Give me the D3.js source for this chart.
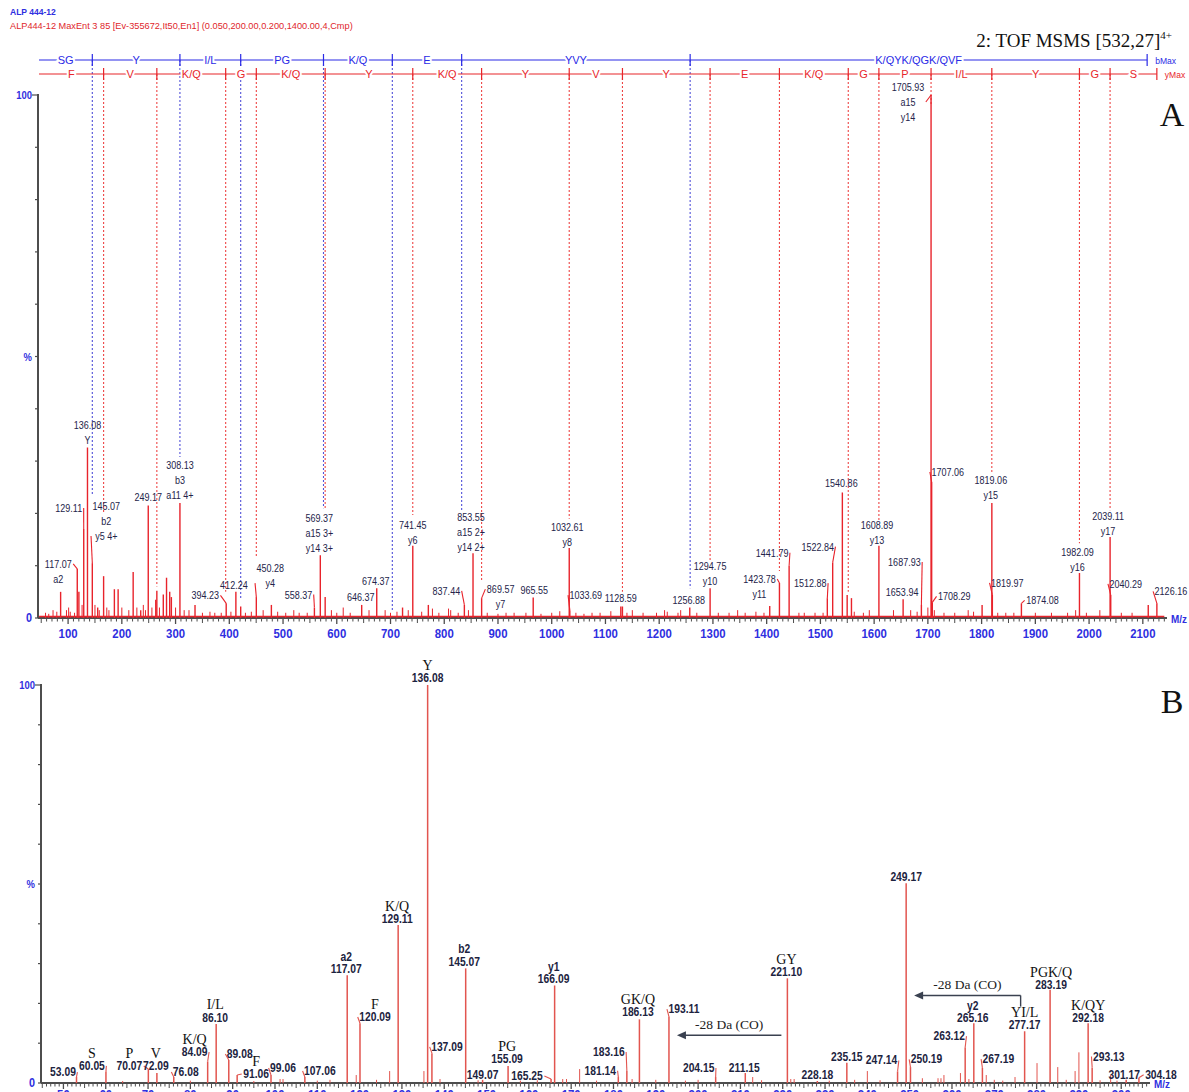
<!DOCTYPE html>
<html>
<head>
<meta charset="utf-8">
<script src="https://cdn.jsdelivr.net/npm/d3@7"></script>
<style>
  html, body { margin: 0; padding: 0; background: #fff; }
  svg { display: block; }
</style>
</head>
<body>
<svg id="chart" width="1189" height="1092"></svg>
<script>
// ---------------- Spectrum A: full MS/MS of [532.27]4+ ----------------
// labelled peaks: [m/z, relative intensity %]
const peaksA = [
  [86.10, 5], [117.07, 9.4], [120.09, 5], [129.11, 17], [136.08, 32.6], [145.07, 10.5],
  [155.09, 2], [166.09, 8], [186.13, 5.5], [193.11, 5.5], [221.10, 8.8], [235.15, 1.5],
  [249.17, 21.5], [263.12, 3.5], [265.16, 5.2], [277.17, 4.5], [283.19, 7.7], [289.1, 5],
  [292.18, 4], [308.13, 22], [336.2, 2.5], [394.23, 2.8], [412.24, 5], [421.2, 2.2],
  [450.28, 4], [478.3, 2.5], [558.37, 2], [569.37, 12], [578.4, 4], [646.37, 2.5],
  [674.37, 5.7], [722.4, 2], [741.45, 13.8], [770.4, 2.5], [837.44, 2.5], [853.55, 12.4],
  [869.57, 3.8], [965.55, 3.9], [1032.61, 13.4], [1033.69, 1.5], [1128.59, 2.2],
  [1131.6, 2.2], [1256.88, 2], [1294.75, 5.7], [1405.7, 2.3], [1423.78, 6.7],
  [1441.79, 10], [1512.88, 3.8], [1522.84, 10.6], [1540.86, 24], [1549.8, 4.4],
  [1557.8, 3.8], [1608.89, 13.8], [1653.94, 3.6], [1687.93, 2.5], [1705.93, 100],
  [1707.06, 26], [1708.29, 3], [1800.9, 2.5], [1819.06, 22], [1819.97, 4.4],
  [1874.08, 2.8], [1982.09, 8.6], [2039.11, 15.5], [2040.29, 4.4], [2110.1, 2.5],
  [2126.16, 2.8]
];
// small background peaks
const minorA = [
  [58, 1], [64, 0.8], [72, 1.5], [79, 1.2], [97, 1.5], [101, 2], [104, 1.2], [112, 1],
  [126, 2.5], [150, 2.5], [158, 1.5], [172, 2], [176, 1.5], [200, 2], [213, 1.5], [228, 2],
  [240, 2.5], [244, 1.5], [256, 2], [270, 2], [300, 2], [316, 1.5], [325, 1.5], [350, 1],
  [364, 1.2], [373, 1], [385, 1], [403, 1.2], [430, 1], [441, 1.2], [463, 1.5], [490, 1.2],
  [505, 1], [520, 1.5], [530, 1], [545, 1], [590, 1.5], [600, 1], [612, 2], [625, 1],
  [660, 1.5], [690, 1.5], [700, 1], [712, 1.2], [733, 1.5], [758, 1.2], [778, 1.8],
  [790, 1], [808, 1.8], [812, 1.5], [826, 1], [845, 1.5], [880, 1], [900, 0.8], [915, 1],
  [930, 1], [952, 1], [980, 0.8], [1000, 1], [1015, 1.3], [1045, 1], [1060, 0.8],
  [1075, 1], [1090, 1], [1110, 1.3], [1140, 1], [1150, 1.5], [1170, 1], [1195, 1],
  [1210, 1.5], [1215, 1.2], [1235, 1], [1240, 1.5], [1270, 1], [1310, 1], [1330, 1],
  [1346, 1.5], [1360, 1], [1380, 1.2], [1395, 1], [1460, 1], [1470, 1], [1490, 1],
  [1505, 1], [1563, 1.2], [1580, 1], [1591, 1.5], [1636, 1.5], [1668, 1.5], [1680, 1.2],
  [1700, 2], [1712, 1.5], [1730, 1], [1750, 1], [1775, 1.5], [1785, 1.2], [1830, 1],
  [1845, 1], [1860, 1], [1900, 1], [1930, 1], [1960, 1], [1975, 1.5], [1995, 1],
  [2020, 1.5], [2060, 1], [2080, 1]
];
// peak annotations
const labelsA = [
  [117.07, ["117.07", "a2"]], [129.11, ["129.11"]], [136.08, ["136.08", "Y"]],
  [145.07, ["145.07", "b2", "y5 4+"]], [249.17, ["249.17"]],
  [308.13, ["308.13", "b3", "a11 4+"]], [394.23, ["394.23"]], [412.24, ["412.24"]],
  [450.28, ["450.28", "y4"]], [558.37, ["558.37"]], [569.37, ["569.37", "a15 3+", "y14 3+"]],
  [646.37, ["646.37"]], [674.37, ["674.37"]], [741.45, ["741.45", "y6"]],
  [837.44, ["837.44"]], [853.55, ["853.55", "a15 2+", "y14 2+"]], [869.57, ["869.57", "y7"]],
  [965.55, ["965.55"]], [1032.61, ["1032.61", "y8"]], [1033.69, ["1033.69"]],
  [1128.59, ["1128.59"]], [1256.88, ["1256.88"]], [1294.75, ["1294.75", "y10"]],
  [1423.78, ["1423.78", "y11"]], [1441.79, ["1441.79"]], [1512.88, ["1512.88"]],
  [1522.84, ["1522.84"]], [1540.86, ["1540.86"]], [1608.89, ["1608.89", "y13"]],
  [1653.94, ["1653.94"]], [1687.93, ["1687.93"]], [1705.93, ["1705.93", "a15", "y14"]],
  [1707.06, ["1707.06"]], [1708.29, ["1708.29"]], [1819.06, ["1819.06", "y15"]],
  [1819.97, ["1819.97"]], [1874.08, ["1874.08"]], [1982.09, ["1982.09", "y16"]],
  [2039.11, ["2039.11", "y17"]], [2040.29, ["2040.29"]], [2126.16, ["2126.16"]]
];
// b-ion and y-ion ladders (boundary m/z, residue ending at that boundary)
const bLadderMz = [145.07, 308.13, 421.21, 575.28, 703.37, 832.41, 1257.60, 2108.05];
const bResidues = ["SG", "Y", "I/L", "PG", "K/Q", "E", "YVY", "K/QYK/QGK/QVF"];
const bDropTo = [23.5, 30.8, 3.5, 21, 1.5, 20.6, 5.7];
const yLadderMz = [166.09, 265.16, 393.25, 450.27, 578.36, 741.42, 869.51, 1032.57, 1131.64,
  1294.71, 1423.75, 1551.84, 1608.86, 1705.91, 1818.99, 1982.06, 2039.08, 2126.11];
const yResidues = ["F", "V", "K/Q", "G", "K/Q", "Y", "K/Q", "Y", "V", "Y", "E", "K/Q", "G",
  "P", "I/L", "Y", "G", "S"];
const yDropTo = [20, 6, 5, 11.5, 21, 19.7, 7, 19, 5, 11, 9, 5, 18.7, 98, 27.7, 14.3, 20.6];
const tickLabelsA = [100, 200, 300, 400, 500, 600, 700, 800, 900, 1000, 1100, 1200, 1300,
  1400, 1500, 1600, 1700, 1800, 1900, 2000, 2100];

// ---------------- Spectrum B: low-mass region 44-307 ----------------
const peaksB = [
  [53.09, 1.5], [60.05, 2.8], [70.07, 3.5], [72.09, 2.5], [76.08, 1.5], [84.09, 5.4],
  [86.10, 14.8], [89.08, 5.8], [91.06, 2], [99.06, 2], [107.06, 1.5], [117.07, 27.1],
  [120.09, 15], [129.11, 39.7], [136.08, 100], [137.09, 7.5], [145.07, 28.8], [149.07, 0.8],
  [155.09, 4.3], [165.25, 1], [166.09, 24.5], [181.14, 1.5], [183.16, 3], [186.13, 16],
  [193.11, 16.7], [204.15, 1.5], [211.15, 2.5], [221.10, 26.3], [228.18, 0.5],
  [235.15, 5.1], [247.14, 2.9], [249.17, 50.2], [250.19, 4], [263.12, 9], [265.16, 15],
  [267.19, 3.8], [277.17, 13], [283.19, 23.4], [292.18, 15], [293.13, 3.8], [301.17, 0.8],
  [304.18, 1.3]
];
const minorB = [
  [64, 0.5], [80, 0.6], [95, 0.5], [101.2, 1], [101.9, 1], [110, 0.6], [113, 0.8],
  [119.2, 2], [124, 0.8], [127.1, 3], [135.2, 3], [139, 1], [148, 0.7], [158, 0.6],
  [162, 0.7], [168, 1], [168.9, 1], [172, 3.5], [176, 0.6], [184.4, 1], [190, 0.8],
  [197, 0.6], [200, 0.8], [212.9, 1.5], [215, 0.7], [221.9, 1], [222.7, 1], [231, 0.6],
  [237, 0.8], [240, 3], [243, 0.7], [253, 1.2], [256.7, 1.2], [257.4, 1.2], [258.1, 2],
  [262, 2.5], [264, 1], [268.1, 2], [270, 0.8], [272, 0.6], [274.9, 1.5], [280.1, 5],
  [285, 4], [287, 0.8], [289.1, 3], [290, 7.7], [295, 0.7], [297.5, 2], [299, 0.6]
];
const labelsB = [
  [53.09, ["53.09"]], [60.05, ["S", "60.05"]], [70.07, ["P", "70.07"]], [72.09, ["V", "72.09"]],
  [76.08, ["76.08"]], [84.09, ["K/Q", "84.09"]], [86.10, ["I/L", "86.10"]], [89.08, ["89.08"]],
  [91.06, ["F", "91.06"]], [99.06, ["99.06"]], [107.06, ["107.06"]], [117.07, ["a2", "117.07"]],
  [120.09, ["F", "120.09"]], [129.11, ["K/Q", "129.11"]], [136.08, ["Y", "136.08"]],
  [137.09, ["137.09"]], [145.07, ["b2", "145.07"]], [149.07, ["149.07"]],
  [155.09, ["PG", "155.09"]], [165.25, ["165.25"]], [166.09, ["y1", "166.09"]],
  [181.14, ["181.14"]], [183.16, ["183.16"]], [186.13, ["GK/Q", "186.13"]],
  [193.11, ["193.11"]], [204.15, ["204.15"]], [211.15, ["211.15"]], [221.10, ["GY", "221.10"]],
  [228.18, ["228.18"]], [235.15, ["235.15"]], [247.14, ["247.14"]], [249.17, ["249.17"]],
  [250.19, ["250.19"]], [263.12, ["263.12"]], [265.16, ["y2", "265.16"]], [267.19, ["267.19"]],
  [277.17, ["YI/L", "277.17"]], [283.19, ["PGK/Q", "283.19"]], [292.18, ["K/QY", "292.18"]],
  [293.13, ["293.13"]], [301.17, ["301.17"]], [304.18, ["304.18"]]
];
// neutral-loss arrows: from m/z, to m/z, text
const lossesB = [[221.10, 193.11, "-28 Da (CO)"], [277.17, 249.17, "-28 Da (CO)"]];
const tickLabelsB = [50, 60, 70, 80, 90, 100, 110, 120, 130, 140, 150, 160, 170, 180, 190,
  200, 210, 220, 230, 240, 250, 260, 270, 280, 290, 300];

// ---------------- layout (pixel offsets of annotations) ----------------
// [dx of label centre, dy of last baseline from peak top, line index the leader starts at (-1 none)]
const placeA = {
  "117.07": [-19, 14, 0], "129.11": [-15, -17, 0], "136.08": [0, -4, -1], "145.07": [14, -23, 2],
  "249.17": [0, -4.6, -1], "308.13": [0, -4, -1], "394.23": [-21, -4, 0], "412.24": [-2, -3, -1],
  "450.28": [14, -10, 1], "558.37": [-16, -9, 0], "569.37": [-1, -3, -1], "646.37": [-1, -4, -1],
  "674.37": [-1, -3, -1], "741.45": [0, -2, -1], "837.44": [-18, -10, 0], "853.55": [-2, -2, -1],
  "869.57": [19, 10, 0], "965.55": [1, -4, -1], "1032.61": [-2, -2, -1], "1033.69": [16, -11, 0],
  "1128.59": [0, -4, -1], "1256.88": [-1, -4, -1], "1294.75": [0, -3, -1], "1423.78": [-20, 15, 0],
  "1441.79": [-17, -9, 0], "1512.88": [-17, -11, 0], "1522.84": [-15, -12, 0], "1540.86": [-1, -5, -1],
  "1608.89": [-2, -2, -1], "1653.94": [-1, -3, -1], "1687.93": [-17, -39, 0], "1705.93": [-23, 26, 1],
  "1707.06": [16, -6, 0], "1708.29": [22, -2, 0], "1819.06": [-1, -4, -1], "1819.97": [15, -8, 0],
  "1874.08": [21, 1, 0], "1982.09": [-2, -2, -1], "2039.11": [-2, -1.5, -1], "2040.29": [15, -7, 0],
  "2126.16": [14, -8, 0]
};
const placeB = {
  "53.09": [-13.5, -1, 0], "60.05": [-14, -2, 1], "70.07": [-19, 1, 1], "72.09": [-1, -3, -1],
  "76.08": [12, -1, 0], "84.09": [-13, -5.5, 1], "86.10": [-1, -2.3, -1], "89.08": [11, -2, 0],
  "91.06": [19, 3, 1], "99.06": [12, -3, 0], "107.06": [15, -2, 0], "117.07": [-1, -2, -1],
  "120.09": [15, -2.3, 1], "129.11": [-1, -1.7, -1], "136.08": [0, -3, -1], "137.09": [15, -2.3, 0],
  "145.07": [-1.5, -2.7, -1], "149.07": [0, -1, -1], "155.09": [-1, -2.7, -1], "165.25": [-24, 1, 0],
  "166.09": [-1, -2.5, -1], "181.14": [-18, -2.3, 0], "183.16": [-18, -15, 0], "186.13": [-1.5, -3, -1],
  "193.11": [15, -3.5, 0], "204.15": [-17, -5, 0], "211.15": [-1, -1, -1], "221.10": [-1, -2, -1],
  "228.18": [0, -2, -1], "235.15": [0, -2, -1], "247.14": [-16, -7, 0], "249.17": [0, -2.3, -1],
  "250.19": [16, -3.7, 0], "263.12": [-16, -7, 0], "265.16": [-1, -1.3, -1], "267.19": [16, -4.7, 0],
  "277.17": [0, -2, -1], "283.19": [1, -1, -1], "292.18": [0, -1.3, -1], "293.13": [16.6, -7.3, 0],
  "301.17": [-2, -1, -1], "304.18": [22, 1, 0]
};
// arrow levels (% intensity): [horizontal level, start level of the riser or null]
const lossPlace = [[12, null], [22, 19.2]];

// ---------------- styles ----------------
const RED = "#e8232b", RED_B = "#e2554f", BLUE = "#2f2fe0", DOT_BLUE = "#5050d8",
      INK = "#24244a", AXIS = "#4d4d4d";
const SANS = "'Liberation Sans',Arial,sans-serif";
const SERIF = "'Liberation Serif','Times New Roman',serif";

const svg = d3.select("#chart");
const fmt = v => v.toFixed(2);

// text drawn horizontally condensed (narrow instrument-software look)
function ctext(g, x, y, str, o) {
  const sx = o.sx || 1;
  const t = g.append("text")
    .attr("transform", `translate(${x},${y}) scale(${sx},1)`)
    .attr("text-anchor", o.anchor || "middle")
    .attr("font-family", o.family || SANS).attr("font-size", o.size || 11)
    .attr("font-weight", o.weight || "normal").attr("fill", o.fill || INK)
    .text(str);
  if (o.halo) t.attr("stroke", "#fff").attr("stroke-width", 4).attr("paint-order", "stroke");
  return t;
}

// ---------------- header ----------------
ctext(svg, 10, 15, "ALP 444-12", { anchor: "start", size: 9.5, weight: "bold", fill: BLUE, sx: 0.9 });
ctext(svg, 10, 29, "ALP444-12  MaxEnt 3  85 [Ev-355672,It50,En1] (0.050,200.00,0.200,1400.00,4,Cmp)",
  { anchor: "start", size: 9.5, fill: "#e0262b", sx: 0.97 });
const title = svg.append("text").attr("x", 1172).attr("y", 47).attr("text-anchor", "end")
  .attr("font-family", SERIF).attr("font-size", 19).attr("fill", "#111");
title.append("tspan").text("2: TOF MSMS [532,27]");
title.append("tspan").attr("dy", -8).attr("font-size", 11).text("4+");

svg.append("text").attr("x", 1172).attr("y", 126).attr("text-anchor", "middle")
  .attr("font-family", SERIF).attr("font-size", 34).attr("fill", "#111").text("A");
svg.append("text").attr("x", 1172).attr("y", 713).attr("text-anchor", "middle")
  .attr("font-family", SERIF).attr("font-size", 34).attr("fill", "#111").text("B");

// ---------------- helpers ----------------
function drawAxes(g, x, y, cfg) {
  const [x0, x1] = x.range();
  const [yb, yt] = y.range();
  g.append("line").attr("x1", x0).attr("x2", x0).attr("y1", yt - 1).attr("y2", yb)
    .attr("stroke", AXIS).attr("stroke-width", 2);
  for (let p = 0; p <= 100; p += 10) {
    g.append("line").attr("x1", x0 - (p === 100 ? 6 : 3)).attr("x2", x0)
      .attr("y1", y(p)).attr("y2", y(p)).attr("stroke", AXIS).attr("stroke-width", 1.2);
  }
  [[100, "100"], [50, "%"], [0, "0"]].forEach(([p, t]) =>
    ctext(g, x0 - 6, y(p) + 4, t, { anchor: "end", weight: "bold", size: p === 0 ? 12 : 10.5,
      fill: BLUE, sx: 0.9 }));
  g.append("line").attr("x1", x0).attr("x2", x1).attr("y1", yb).attr("y2", yb)
    .attr("stroke", AXIS).attr("stroke-width", 2);
  const [d0, d1] = x.domain();
  const near = (v, s) => Math.abs(v / s - Math.round(v / s)) < 1e-6;
  for (let k = Math.ceil(d0 / cfg.minor); k * cfg.minor <= d1; k++) {
    const v = k * cfg.minor;
    const isMajor = near(v, cfg.major), isMid = near(v, cfg.mid);
    const len = isMajor ? 5 : isMid ? 4 : 2.5;
    g.append("line").attr("x1", x(v)).attr("x2", x(v)).attr("y1", yb + 1).attr("y2", yb + 1 + len)
      .attr("stroke", AXIS).attr("stroke-width", isMajor ? 1.3 : 1);
  }
  cfg.labels.forEach(v => ctext(g, x(v), yb + cfg.labelDy, String(v),
    { weight: "bold", size: 12, fill: BLUE, sx: 0.95 }));
  ctext(g, x1 + 4, yb + 5, "M/z", { anchor: "start", weight: "bold", size: 11, fill: BLUE, sx: 0.9 });
}

function drawPeaks(g, x, y, peaks, color, width) {
  g.selectAll(null).data(peaks).join("line")
    .attr("x1", d => x(d[0])).attr("x2", d => x(d[0]))
    .attr("y1", y(0)).attr("y2", d => y(d[1]))
    .attr("stroke", color).attr("stroke-width", width);
}

function drawLabels(g, x, y, peaks, labels, place, styleOf, lineH, leadColor) {
  const inten = new Map(peaks.map(d => [fmt(d[0]), d[1]]));
  labels.forEach(([mz, lines]) => {
    const key = fmt(mz);
    const [dx, dy, lead] = place[key];
    const px = x(mz), top = y(inten.get(key));
    const cx = px + dx, lastBase = top + dy;
    const n = lines.length;
    let maxW = 0;
    const bases = [];
    lines.forEach((t, i) => {
      const st = styleOf(t);
      const base = lastBase - (n - 1 - i) * lineH;
      bases.push(base);
      const tx = ctext(g, cx, base, t, st);
      maxW = Math.max(maxW, tx.node().getComputedTextLength() * (st.sx || 1));
    });
    if (lead >= 0) {
      const side = dx > 0 ? -1 : 1;
      const ax = cx + side * (maxW / 2 + 1.5);
      const ay = bases[lead] - 4;
      g.append("polyline")
        .attr("points", [[ax, ay], [px, top]].join(" "))
        .attr("fill", "none").attr("stroke", leadColor).attr("stroke-width", 1.1);
    }
  });
}

// ---------------- panel A ----------------
const xA = d3.scaleLinear().domain([44, 2145]).range([38, 1167]);
const yA = d3.scaleLinear().domain([0, 100]).range([618, 95]);
const gA = svg.append("g");

function drawLadder(g, ly, bounds, residues, drops, color, dotColor, endText) {
  const xs = [xA.range()[0] + 1].concat(bounds.map(xA));
  g.append("line").attr("x1", xs[0]).attr("x2", xs[xs.length - 1]).attr("y1", ly).attr("y2", ly)
    .attr("stroke", color).attr("stroke-width", 1.2);
  // dotted drop lines down to the matching fragment
  bounds.slice(0, -1).forEach((mz, i) => {
    g.append("line").attr("x1", xA(mz)).attr("x2", xA(mz)).attr("y1", ly).attr("y2", yA(drops[i]))
      .attr("stroke", dotColor).attr("stroke-width", 1.1).attr("stroke-dasharray", "2,2");
  });
  bounds.forEach(mz => g.append("line").attr("x1", xA(mz)).attr("x2", xA(mz))
    .attr("y1", ly - 6).attr("y2", ly + 6).attr("stroke", color).attr("stroke-width", 1.2));
  residues.forEach((r, i) => ctext(g, (xs[i] + xs[i + 1]) / 2, ly + 4, r,
    { size: 11, fill: color, halo: true, sx: 1 }));
  ctext(g, xs[xs.length - 1] + 8, ly + 3.5, endText, { anchor: "start", size: 9.5, fill: color, sx: 0.9 });
}
drawLadder(gA, 60, bLadderMz, bResidues, bDropTo, "#2a2ae6", DOT_BLUE, "bMax");
drawLadder(gA, 74, yLadderMz, yResidues, yDropTo, "#e8262b", "#ee4545", "yMax");

drawAxes(gA, xA, yA, { minor: 10, mid: 50, major: 100, labels: tickLabelsA, labelDy: 20 });
gA.append("line").attr("x1", xA(46)).attr("x2", xA(2140)).attr("y1", yA(0.3)).attr("y2", yA(0.3))
  .attr("stroke", RED).attr("stroke-width", 1.6);
drawPeaks(gA, xA, yA, minorA, RED, 1);
drawPeaks(gA, xA, yA, peaksA, RED, 1.4);

const styleA = () => ({ size: 11, fill: INK, sx: 0.82 });
drawLabels(gA, xA, yA, peaksA, labelsA, placeA, styleA, 15, RED);

// ---------------- panel B ----------------
const xB = d3.scaleLinear().domain([44.7, 306.8]).range([41, 1150]);
const yB = d3.scaleLinear().domain([0, 100]).range([1083, 685]);
const gB = svg.append("g");
drawAxes(gB, xB, yB, { minor: 1, mid: 5, major: 10, labels: tickLabelsB, labelDy: 16 });
drawPeaks(gB, xB, yB, minorB, RED_B, 1);
drawPeaks(gB, xB, yB, peaksB, RED_B, 1.5);

const styleB = t => {
  if (/^[0-9]/.test(t) || /^[aby][0-9]/.test(t))
    return { size: 12, weight: "bold", fill: "#1c2340", sx: 0.86 };
  return { family: SERIF, size: 14, fill: "#111", sx: 1 };
};
drawLabels(gB, xB, yB, peaksB, labelsB, placeB, styleB, 12.3, RED_B);

// neutral-loss arrows
const ARROW = "#3a4150";
lossesB.forEach(([from, to, text], i) => {
  const [lvl, riser] = lossPlace[i];
  const yy = yB(lvl);
  const xs = riser === null ? xB(from) - 6 : xB(from) - 4;
  const xe = xB(to) + 8;
  if (riser !== null) {
    gB.append("line").attr("x1", xs).attr("x2", xs).attr("y1", yB(riser)).attr("y2", yy)
      .attr("stroke", ARROW).attr("stroke-width", 1.4);
  }
  gB.append("line").attr("x1", xs).attr("x2", xe + 6).attr("y1", yy).attr("y2", yy)
    .attr("stroke", ARROW).attr("stroke-width", 1.4);
  gB.append("path").attr("d", `M${xe},${yy} l9,-4 l0,8 z`).attr("fill", ARROW);
  ctext(gB, (xs + xe) / 2, yy - 6, text, { family: SERIF, size: 13.5, fill: "#222" });
});
</script>
</body>
</html>
